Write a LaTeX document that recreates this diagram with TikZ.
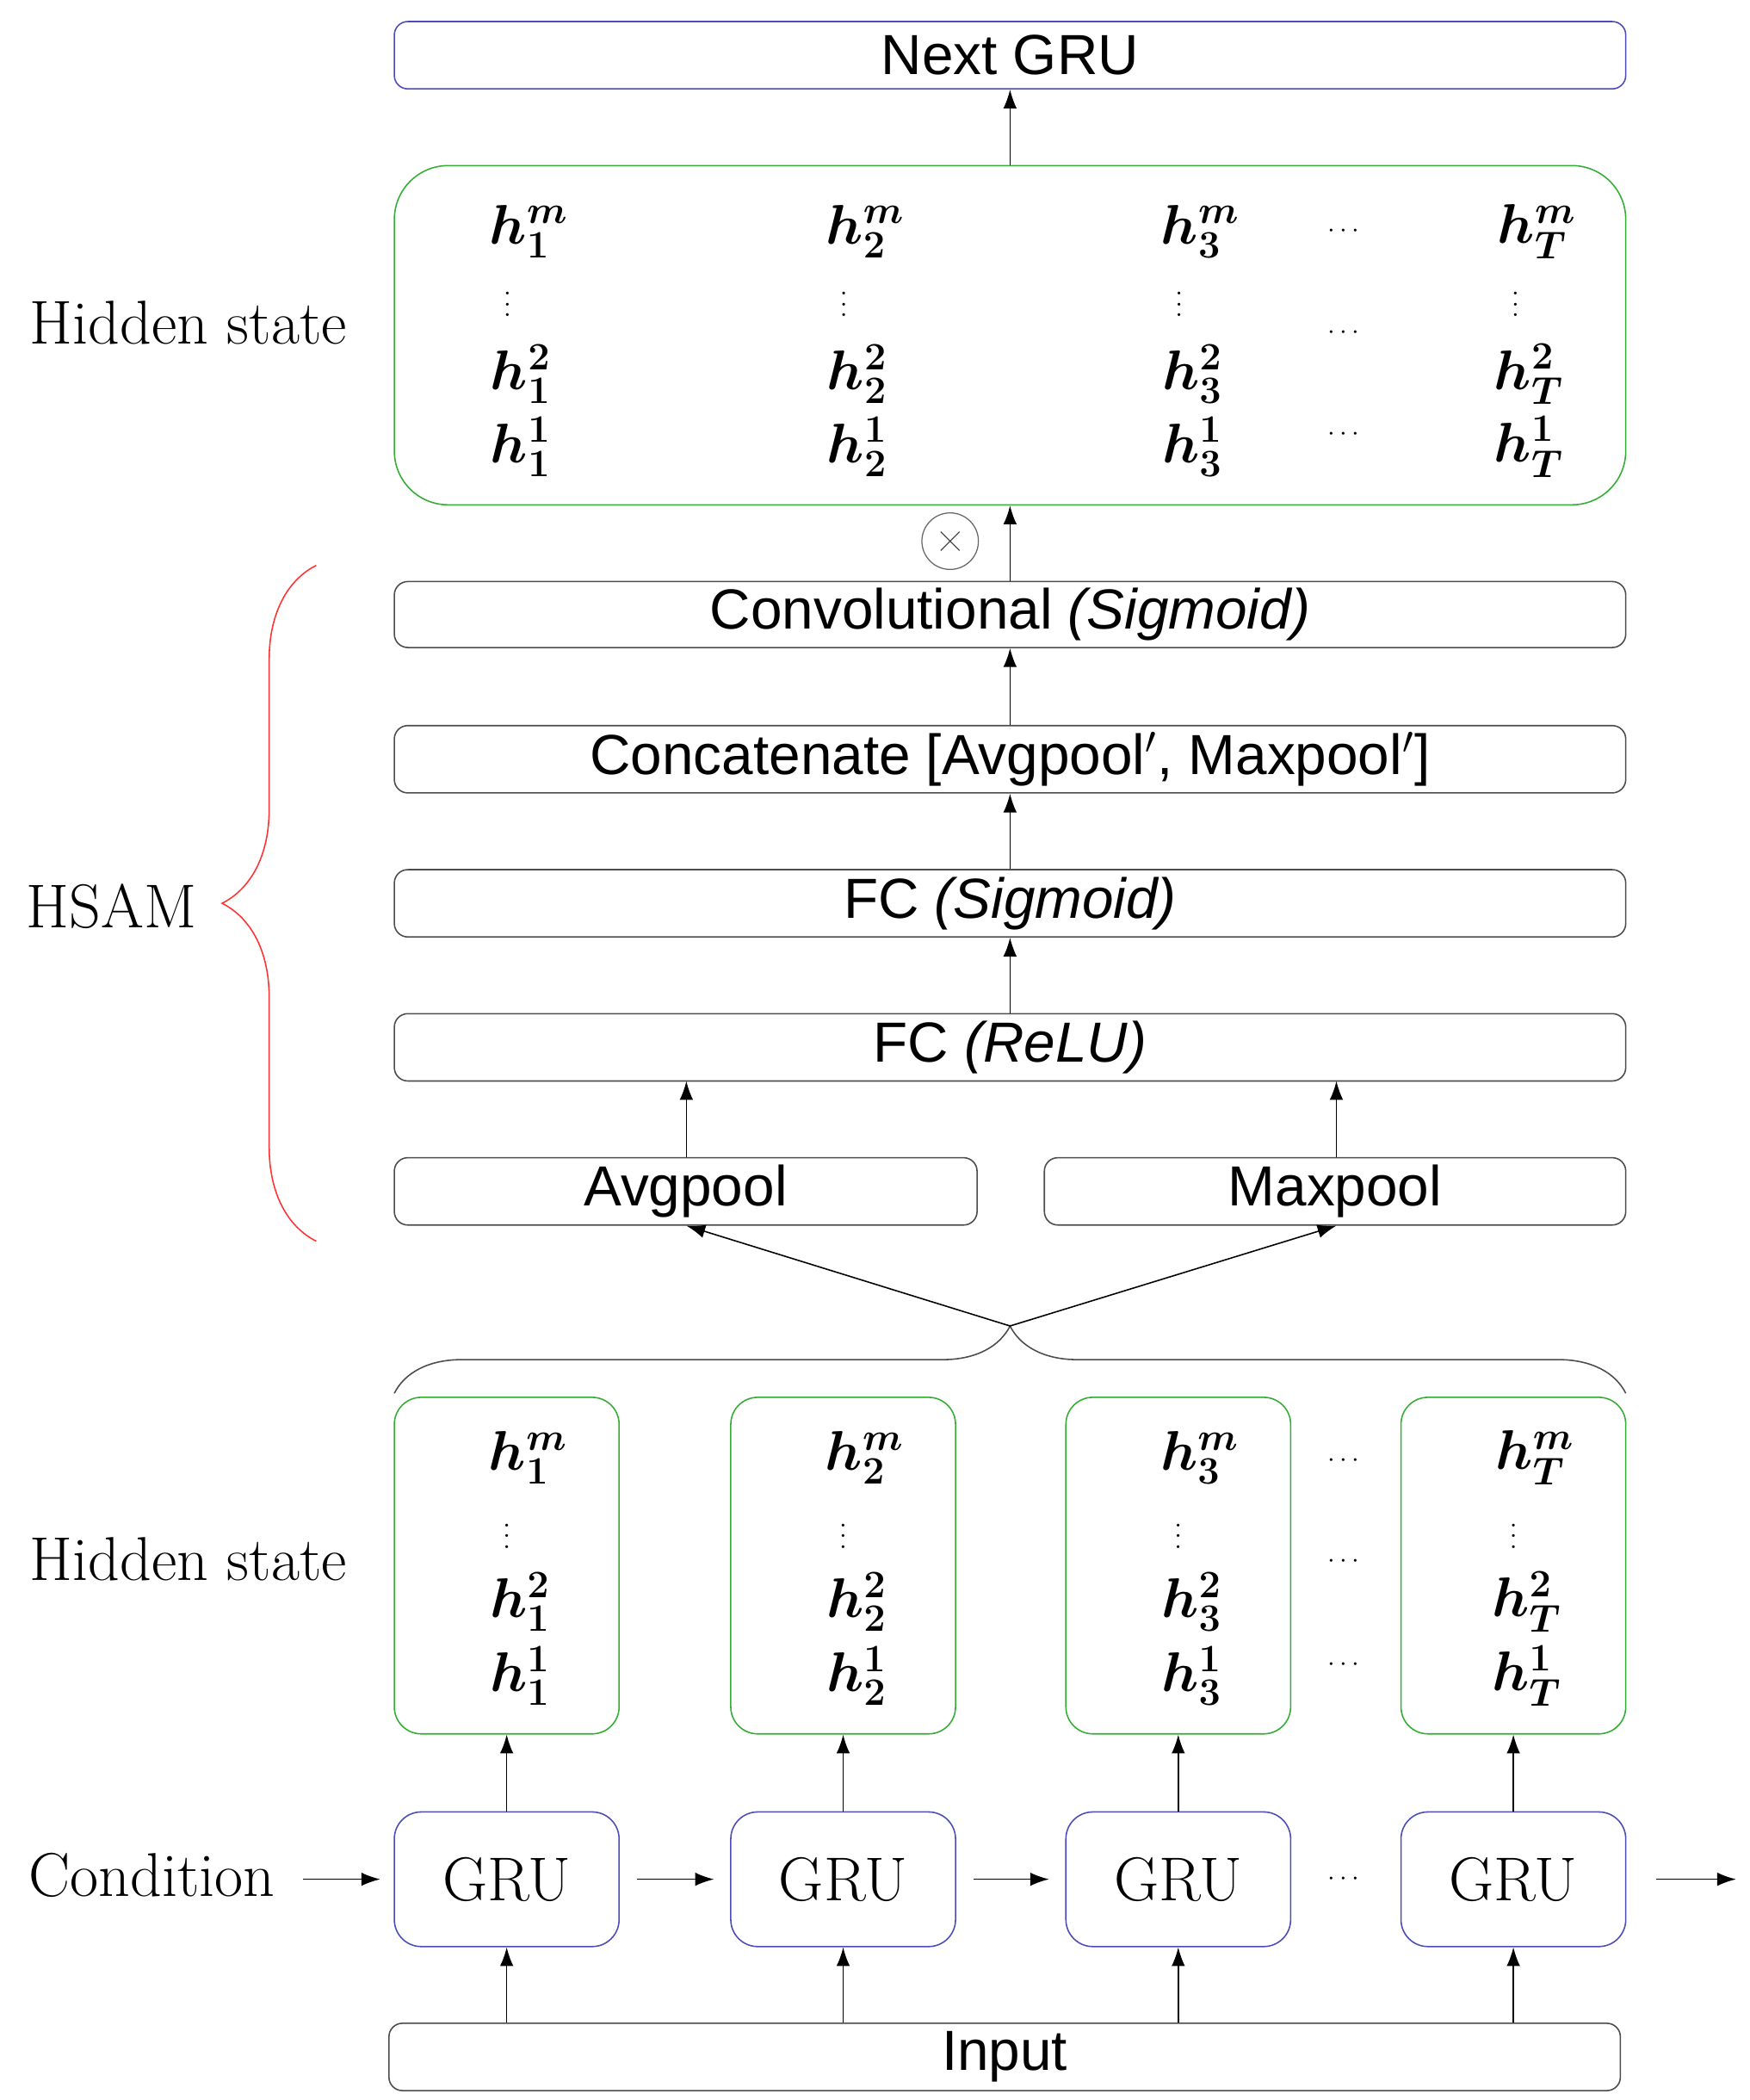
\documentclass[tikz,border=0pt]{standalone}
\usepackage{fontspec}
\usepackage{amsmath,bm}
\newfontfamily\sansf{Liberation Sans}
\usetikzlibrary{decorations.pathreplacing,arrows.meta}
\begin{document}
\begin{tikzpicture}[x=0.5pt,y=-0.5pt,
  box/.style={draw=black!70,line width=0.5pt,rounded corners=5pt,inner sep=0pt},
  bl/.style={box,draw=blue!60!black!70},
  gr/.style={box,draw=green!60!black!80},
  arr/.style={-{Latex[length=7pt,width=5pt]},line width=0.5pt},
  st/.style={font=\sansf\fontsize{21}{25}\selectfont},
  lb/.style={font=\fontsize{23}{27}\selectfont},
  hh/.style={font=\fontsize{21}{25}\selectfont},
  dd/.style={font=\fontsize{10}{12}\selectfont}]
\useasboundingbox (0,0) rectangle (1300,1560);
% top
\node[bl,minimum width=457.5pt,minimum height=25pt,st] (next) at (750.5,41) {Next GRU};
\node[gr,rounded corners=20pt,minimum width=457.5pt,minimum height=126pt] (hid) at (750.5,249) {};
\node[box,minimum width=457.5pt,minimum height=24.5pt,st] (conv) at (750.5,456.5) {Convolutional \textit{(Sigmoid)}};
\node[box,minimum width=457.5pt,minimum height=25pt,st] (cat) at (750.5,564) {Concatenate [Avgpool$'$, Maxpool$'$]};
\node[box,minimum width=457.5pt,minimum height=25pt,st] (fcs) at (750.5,671) {FC \textit{(Sigmoid)}};
\node[box,minimum width=457.5pt,minimum height=25pt,st] (fcr) at (750.5,778) {FC \textit{(ReLU)}};
\node[box,minimum width=216.5pt,minimum height=25pt,st] (avg) at (509.5,885) {Avgpool};
\node[box,minimum width=216pt,minimum height=25pt,st] (max) at (992,885) {Maxpool};
\node[circle,draw=black!60,line width=0.4pt,minimum size=21pt,inner sep=0pt] (ot) at (706,402) {};
\draw[line width=0.4pt,black!70] ([shift={(-7,-7)}]ot.center)--([shift={(7,7)}]ot.center) ([shift={(-7,7)}]ot.center)--([shift={(7,-7)}]ot.center);
\draw[arr] (hid.north) -- (next.south);
\draw[arr] (conv.north) -- (hid.south);
\draw[arr] (cat.north) -- (conv.south);
\draw[arr] (fcs.north) -- (cat.south);
\draw[arr] (fcr.north) -- (fcs.south);
\coordinate (fa) at (510,803); \coordinate (fm) at (993,803);
\draw[arr] (avg.north -| fa) -- (fa);
\draw[arr] (max.north -| fm) -- (fm);
% labels
\node[lb] (l1) at (140,240) {Hidden state};
\node[lb] (l2) at (140,1158) {Hidden state};
\node[lb] (l3) at (83,673) {HSAM};
\node[lb] (l4) at (113,1393) {Condition};
\draw[red!80,line width=0.5pt,decorate,decoration={brace,amplitude=35pt}] (235,922) -- (235,420);
% big hidden contents
\foreach \i/\x/\s in {1/393/1,2/643/2,3/892/3,4/1142/T}{
  \node[hh] (bm\i) at (\x,172) {$\bm{h}_{\bm{\s}}^{\bm{m}}$};
  \node[dd] (bv\i) at (\x-16,220) {$\vdots$};
  \node[hh] (b2\i) at (\x-6,278) {$\bm{h}_{\bm{\s}}^{\bm{2}}$};
  \node[hh] (b1\i) at (\x-6,332) {$\bm{h}_{\bm{\s}}^{\bm{1}}$};
}
\node[dd] (c1) at (1000,172) {$\cdots$};
\node[dd] (c2) at (1000,247) {$\cdots$};
\node[dd] (c3) at (1000,323) {$\cdots$};
% lower
\foreach \i/\x/\s in {1/376.5/1,2/626.5/2,3/875.5/3,4/1124.5/T}{
  \node[gr,rounded corners=10pt,minimum width=83.5pt,minimum height=125pt] (sh\i) at (\x,1163) {};
  \node[bl,rounded corners=10pt,minimum width=83.5pt,minimum height=50pt,lb] (g\i) at (\x,1396) {GRU};
  \node[hh] (sm\i) at (\x+16,1083) {$\bm{h}_{\bm{\s}}^{\bm{m}}$};
  \node[dd] (sv\i) at (\x,1135) {$\vdots$};
  \node[hh] (s2\i) at (\x+10,1190) {$\bm{h}_{\bm{\s}}^{\bm{2}}$};
  \node[hh] (s1\i) at (\x+10,1245) {$\bm{h}_{\bm{\s}}^{\bm{1}}$};
  \draw[arr] (g\i.north) -- (sh\i.south);
}
\node[dd] (d1) at (1000,1085) {$\cdots$};
\node[dd] (d2) at (1000,1160) {$\cdots$};
\node[dd] (d3) at (1000,1237) {$\cdots$};
\node[dd] (d4) at (1000,1396) {$\cdots$};
\node[box,minimum width=457.5pt,minimum height=25pt,st] (inp) at (746.5,1528) {Input};
\foreach \i in {1,...,4}{\draw[arr] (inp.north -| g\i) -- (g\i.south);}
\coordinate (e0) at (225,1396); \coordinate (e5) at (1290,1396);
\draw[arr] (e0) -- ([xshift=-5pt]g1.west);
\draw[arr] ([xshift=6.5pt]g1.east) -- ([xshift=-6pt]g2.west);
\draw[arr] ([xshift=6.5pt]g2.east) -- ([xshift=-6pt]g3.west);
\draw[arr] ([xshift=11pt]g4.east) -- (e5);
% brace
\draw[black!70,line width=0.5pt,decorate,decoration={brace,amplitude=25pt}] (293,1035) -- (1208,1035);
\coordinate (bt) at (750.5,985);
\draw[arr] (bt) -- (avg.south -| fa);
\draw[arr] (bt) -- (max.south -| fm);
\end{tikzpicture}
\end{document}
